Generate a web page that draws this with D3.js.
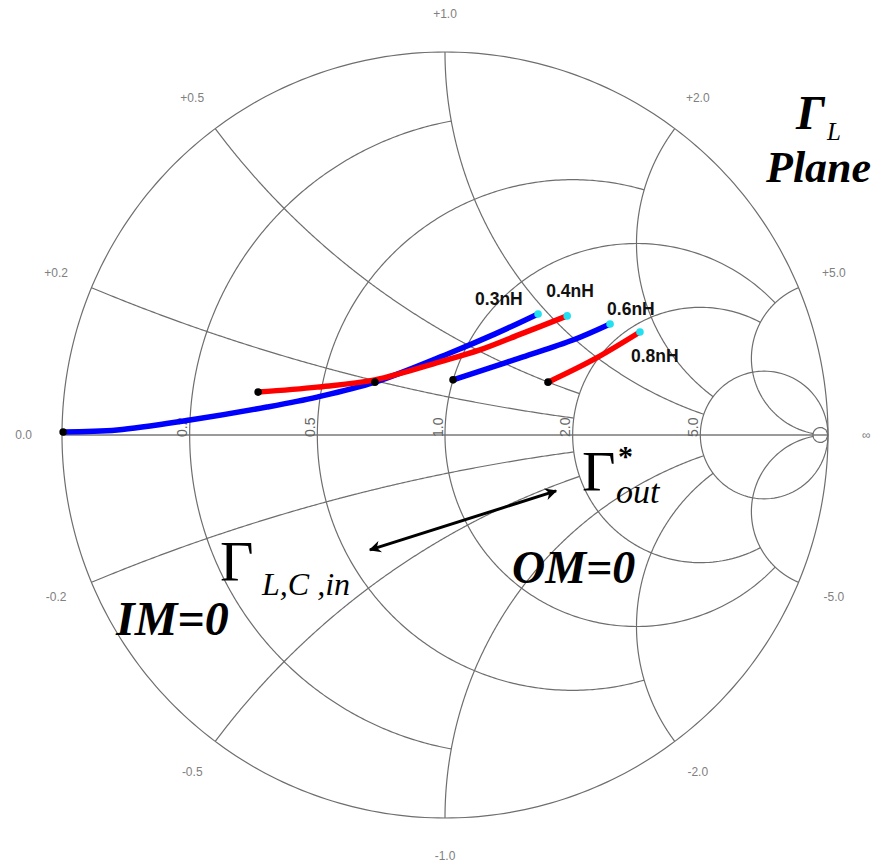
<!DOCTYPE html>
<html>
<head>
<meta charset="utf-8">
<script src="https://cdn.jsdelivr.net/npm/d3@7"></script>
<style>
  body { margin: 0; background: #fff; }
  svg { display: block; }
</style>
</head>
<body>
<div id="chart"></div>
<script>
// Smith chart grid (normalized impedance z = r + jx)
var resistanceValues = [0.2, 0.5, 1, 2, 5, 50];
var resistanceReach = [1, 2, 5, 5, Infinity, Infinity];   // circle drawn while |x| <= reach
var reactanceValues = [0.2, 0.5, 1, 2, 5];
var reactanceReach = [2, 2, 5, 5, 50];                   // arc drawn while r <= reach
var axisValues = [0.2, 0.5, 1, 2, 5];
var axisLabels = ["0.2", "0.5", "1.0", "2.0", "5.0"];
var rimValues = [0, 0.2, 0.5, 1, 2, 5, Infinity, -5, -2, -1, -0.5, -0.2];
var rimLabels = ["0.0", "+0.2", "+0.5", "+1.0", "+2.0", "+5.0", "\u221e", "-5.0", "-2.0", "-1.0", "-0.5", "-0.2"];

// load reflection coefficient traces, [Re Γ, Im Γ]
var seriesNames = ["0.3nH", "0.4nH", "0.6nH", "0.8nH"];
var trace03 = [[-0.997, 0.008], [-0.856, 0.013], [-0.666, 0.039], [-0.465, 0.073], [-0.334, 0.099],
               [-0.183, 0.138], [0.013, 0.214], [0.131, 0.264], [0.243, 0.316]];
var trace04 = [[-0.488, 0.112], [-0.334, 0.125], [-0.183, 0.144], [-0.013, 0.191], [0.091, 0.222],
               [0.204, 0.266], [0.319, 0.311]];
var trace06 = [[0.021, 0.144], [0.117, 0.175], [0.204, 0.204], [0.334, 0.248], [0.431, 0.290]];
var trace08 = [[0.269, 0.138], [0.386, 0.196], [0.509, 0.269]];
var extraMarkers = [[-0.183, 0.138]];
// Γ_L,C,in  <->  Γ*_out arrow
var arrowEnds = [[-0.196, -0.300], [0.290, -0.146]];

var traces = [trace03, trace04, trace06, trace08];
var traceColors = ["#0000ff", "#ff0000", "#0000ff", "#ff0000"];
var labelOffsets = [[-63, -9], [-21, -19], [-3, -9], [-9, 30]];

var width = 882, height = 865;
var cx = 445, cy = 435, R = 383;

var re = d3.scaleLinear().domain([-1, 1]).range([cx - R, cx + R]);
var im = d3.scaleLinear().domain([-1, 1]).range([cy + R, cy - R]);

function gamma(r, x) {
  if (!isFinite(x) || !isFinite(r)) return [1, 0];
  var d = (r + 1) * (r + 1) + x * x;
  return [(r * r - 1 + x * x) / d, 2 * x / d];
}

var svg = d3.select("#chart").append("svg")
    .attr("width", width)
    .attr("height", height);

var line = d3.line()
    .x(function(d){ return re(d[0]); })
    .y(function(d){ return im(d[1]); });

var grid = svg.append("g")
    .attr("fill", "none")
    .attr("stroke", "#6e6e6e")
    .attr("stroke-width", 1.2);

// horizontal axis
svg.insert("line", "g")
    .attr("x1", re(-1)).attr("x2", re(1))
    .attr("y1", im(0)).attr("y2", im(0))
    .attr("stroke", "#9a9a9a")
    .attr("stroke-width", 2.2);

// outer circle
grid.append("path")
    .attr("d", line(d3.range(0, 361).map(function(a){
      var t = a * Math.PI / 180;
      return [Math.cos(t), Math.sin(t)];
    })));

// resistance circles
resistanceValues.forEach(function(r, i){
  var lim = Math.atan(resistanceReach[i]);
  var pts = d3.range(0, 401).map(function(k){
    var p = -lim + 2 * lim * k / 400;
    return gamma(r, Math.tan(p));
  });
  grid.append("path").attr("d", line(pts));
});

// reactance arcs
reactanceValues.forEach(function(x, i){
  var lim = Math.atan(reactanceReach[i]);
  [1, -1].forEach(function(s){
    var pts = d3.range(0, 301).map(function(k){
      return gamma(Math.tan(lim * k / 300), s * x);
    });
    grid.append("path").attr("d", line(pts));
  });
});

// resistance labels along the axis
svg.selectAll(".rlab")
    .data(axisValues)
  .enter().append("text")
    .attr("class", "rlab")
    .attr("transform", function(r){
      return "translate(" + (re(gamma(r, 0)[0]) - 2.5) + "," + (im(0) + 2) + ") rotate(-90)";
    })
    .attr("font-family", "Liberation Sans, Arial, sans-serif")
    .attr("font-size", 14)
    .attr("fill", "#666")
    .text(function(d, i){ return axisLabels[i]; });

// reactance labels outside the rim
svg.selectAll(".xlab")
    .data(rimValues)
  .enter().append("text")
    .attr("class", "xlab")
    .attr("x", function(x){ return re(gamma(0, x)[0] * 1.1); })
    .attr("y", function(x){ return im(gamma(0, x)[1] * 1.1); })
    .attr("text-anchor", "middle")
    .attr("dominant-baseline", "central")
    .attr("font-family", "Liberation Sans, Arial, sans-serif")
    .attr("font-size", 12)
    .attr("fill", "#808080")
    .text(function(d, i){ return rimLabels[i]; });

// traces
var curve = d3.line()
    .x(function(d){ return re(d[0]); })
    .y(function(d){ return im(d[1]); })
    .curve(d3.curveCatmullRom);

traces.forEach(function(t, i){
  svg.append("path")
      .attr("d", curve(t))
      .attr("fill", "none")
      .attr("stroke", traceColors[i])
      .attr("stroke-width", 5.5)
      .attr("stroke-linecap", "round");
});

svg.selectAll(".start")
    .data(traces.map(function(t){ return t[0]; }).concat(extraMarkers))
  .enter().append("circle")
    .attr("cx", function(d){ return re(d[0]); })
    .attr("cy", function(d){ return im(d[1]); })
    .attr("r", 3.8)
    .attr("fill", "#000");

svg.selectAll(".end")
    .data(traces.map(function(t){ return t[t.length - 1]; }))
  .enter().append("circle")
    .attr("cx", function(d){ return re(d[0]); })
    .attr("cy", function(d){ return im(d[1]); })
    .attr("r", 3.8)
    .attr("fill", "#22e0f0");

svg.selectAll(".nh")
    .data(traces)
  .enter().append("text")
    .attr("x", function(t, i){ return re(t[t.length - 1][0]) + labelOffsets[i][0]; })
    .attr("y", function(t, i){ return im(t[t.length - 1][1]) + labelOffsets[i][1]; })
    .attr("font-family", "Liberation Sans, Arial, sans-serif")
    .attr("font-weight", "bold")
    .attr("font-size", 17.5)
    .attr("fill", "#111")
    .text(function(d, i){ return seriesNames[i]; });

// double arrow
var defs = svg.append("defs");
["start", "end"].forEach(function(k){
  defs.append("marker")
      .attr("id", "head-" + k)
      .attr("viewBox", "0 0 10 10")
      .attr("refX", k === "end" ? 9 : 1)
      .attr("refY", 5)
      .attr("markerWidth", 5)
      .attr("markerHeight", 4)
      .attr("orient", "auto")
    .append("path")
      .attr("d", k === "end" ? "M0,0 L10,5 L0,10 L3,5 Z" : "M10,0 L0,5 L10,10 L7,5 Z")
      .attr("fill", "#000");
});

svg.append("path")
    .attr("d", line(arrowEnds))
    .attr("stroke", "#000")
    .attr("stroke-width", 3)
    .attr("marker-start", "url(#head-start)")
    .attr("marker-end", "url(#head-end)");

// annotations
var serif = "Liberation Serif, Times New Roman, serif";
function note(x, y, txt, size, style, weight){
  svg.append("text")
      .attr("x", x).attr("y", y)
      .attr("font-family", serif)
      .attr("font-size", size)
      .attr("font-style", style || "normal")
      .attr("font-weight", weight || "normal")
      .attr("fill", "#000")
      .text(txt);
}

note(796, 129, "\u0393", 48, "italic", "bold");
note(827, 140, "L", 25, "italic");
note(766, 182, "Plane", 44, "italic", "bold");

note(220, 581, "\u0393", 58);
note(262, 595, "L,C ,in", 32, "italic");

note(582, 491, "\u0393", 58);
note(618, 466, "*", 30, null, "bold");
note(616, 503, "out", 34, "italic");

note(116, 635, "IM=0", 48, "italic", "bold");
note(512, 583, "OM=0", 46, "italic", "bold");
</script>
</body>
</html>
